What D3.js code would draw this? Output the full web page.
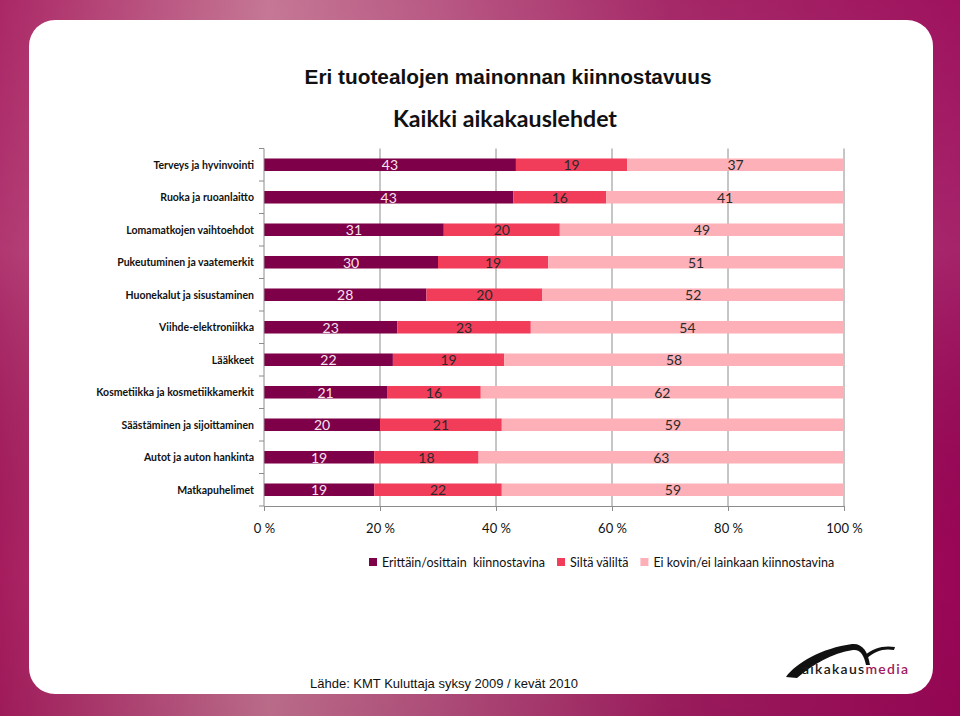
<!DOCTYPE html>
<html>
<head>
<meta charset="utf-8">
<script src="https://cdn.jsdelivr.net/npm/d3@7"></script>
<style>
  html, body { margin: 0; padding: 0; background: #fff; }
  svg { display: block; }
</style>
</head>
<body>
<svg id="chart" width="960" height="716"></svg>
<script>
// ---------------- DATA ----------------
const categories = [
  "Terveys ja hyvinvointi",
  "Ruoka ja ruoanlaitto",
  "Lomamatkojen vaihtoehdot",
  "Pukeutuminen ja vaatemerkit",
  "Huonekalut ja sisustaminen",
  "Viihde-elektroniikka",
  "Lääkkeet",
  "Kosmetiikka ja kosmetiikkamerkit",
  "Säästäminen ja sijoittaminen",
  "Autot ja auton hankinta",
  "Matkapuhelimet"
];
const seriesNames = [
  "Erittäin/osittain  kiinnostavina",
  "Siltä väliltä",
  "Ei kovin/ei lainkaan kiinnostavina"
];
const interested    = [43, 43, 31, 30, 28, 23, 22, 21, 20, 19, 19];
const neutral       = [19, 16, 20, 19, 20, 23, 19, 16, 21, 18, 22];
const notInterested = [37, 41, 49, 51, 52, 54, 58, 62, 59, 63, 59];
const xTicks = [0, 0.2, 0.4, 0.6, 0.8, 1.0];
const titleText = "Eri tuotealojen mainonnan kiinnostavuus";
const subtitleText = "Kaikki aikakauslehdet";
const sourceText = "Lähde: KMT Kuluttaja syksy 2009 / kevät 2010";
const colors = ["#7e0048", "#f23d5a", "#fdb0b8"];

// ---------------- DRAW ----------------
const svg = d3.select("#chart");
const defs = svg.append("defs");

const bg = defs.append("linearGradient").attr("id", "bgGrad")
  .attr("x1", "0").attr("y1", "0").attr("x2", "1").attr("y2", "0");
[["0", "#a61c5e"], ["0.28", "#c2708f"], ["0.45", "#b5517e"], ["0.7", "#a01d60"], ["1", "#9a0656"]]
  .forEach(([o, c]) => bg.append("stop").attr("offset", o).attr("stop-color", c));
const bgV = defs.append("linearGradient").attr("id", "bgGradV")
  .attr("x1", "0").attr("y1", "0").attr("x2", "0").attr("y2", "1");
[["0", "#ffffff", 0.05], ["0.35", "#ffffff", 0.12], ["0.8", "#000000", 0.0], ["1", "#000000", 0.05]]
  .forEach(([o, c, a]) => bgV.append("stop").attr("offset", o).attr("stop-color", c).attr("stop-opacity", a));

svg.append("rect").attr("width", 960).attr("height", 716).attr("fill", "url(#bgGrad)");
svg.append("rect").attr("width", 960).attr("height", 716).attr("fill", "url(#bgGradV)");
svg.append("rect").attr("x", 29).attr("y", 20).attr("width", 904).attr("height", 674)
  .attr("rx", 26).attr("ry", 26).attr("fill", "#ffffff");

// Titles
const t1 = svg.append("text").attr("x", 508).attr("y", 84).attr("text-anchor", "middle")
  .attr("font-family", "Liberation Sans, Arial, sans-serif").attr("font-size", 20)
  .attr("font-weight", 700).attr("fill", "#111").text(titleText);
t1.attr("textLength", 407).attr("lengthAdjust", "spacingAndGlyphs");
const t2 = svg.append("text").attr("x", 505).attr("y", 127).attr("text-anchor", "middle")
  .attr("font-family", "Lato, sans-serif").attr("font-weight", 700).attr("font-size", 22)
  .attr("fill", "#111").text(subtitleText);
t2.attr("textLength", 224).attr("lengthAdjust", "spacingAndGlyphs");

// Scales
const x = d3.scaleLinear().domain([0, 1]).range([264, 844]);
const y = d3.scaleBand().domain(categories).range([148.5, 506])
  .paddingInner(0.615).paddingOuter(0.3075);

const rows = categories.map((c, i) => {
  const vals = [interested[i], neutral[i], notInterested[i]];
  const tot = d3.sum(vals);
  let acc = 0;
  return vals.map((v, k) => {
    const s = { cat: c, k, v, x0: acc / tot, x1: (acc + v) / tot };
    acc += v;
    return s;
  });
});

const grid = "#8c8c8c";
// gridlines
svg.append("g").selectAll("line").data(xTicks.slice(1)).join("line")
  .attr("x1", d => x(d)).attr("x2", d => x(d))
  .attr("y1", 148.5).attr("y2", 506)
  .attr("stroke", grid).attr("stroke-width", 1);

// bars
const segs = rows.flat();
svg.append("g").selectAll("rect").data(segs).join("rect")
  .attr("x", d => x(d.x0)).attr("width", d => x(d.x1) - x(d.x0))
  .attr("y", d => y(d.cat)).attr("height", y.bandwidth())
  .attr("fill", d => colors[d.k]);

// value labels
svg.append("g").selectAll("text").data(segs).join("text")
  .attr("x", d => (x(d.x0) + x(d.x1)) / 2)
  .attr("y", d => y(d.cat) + y.bandwidth() / 2 + 5.5)
  .attr("text-anchor", "middle")
  .attr("font-family", "Lato, sans-serif").attr("font-size", 14)
  .attr("fill", d => d.k === 0 ? "#f6e4ee" : "#2a2a2a")
  .text(d => d.v);

// y axis (category)
const yAxisG = svg.append("g");
yAxisG.append("line").attr("x1", 264).attr("x2", 264).attr("y1", 148.5).attr("y2", 506)
  .attr("stroke", grid);
const step = y.step();
yAxisG.selectAll("line.tick").data(d3.range(categories.length + 1)).join("line")
  .attr("class", "tick")
  .attr("x1", 259).attr("x2", 264)
  .attr("y1", i => 148.5 + i * step).attr("y2", i => 148.5 + i * step)
  .attr("stroke", grid);
yAxisG.selectAll("text").data(categories).join("text")
  .attr("x", 254).attr("y", d => y(d) + y.bandwidth() / 2 + 4)
  .attr("text-anchor", "end")
  .attr("font-family", "Lato, sans-serif").attr("font-weight", 700).attr("font-size", 10.5)
  .attr("fill", "#111").text(d => d);

// x axis
const xAxis = d3.axisBottom(x).tickValues(xTicks).tickSize(5).tickPadding(13)
  .tickFormat(d => Math.round(d * 100) + " %");
const xg = svg.append("g").attr("transform", "translate(0,506)").call(xAxis);
xg.select(".domain").attr("stroke", grid);
xg.selectAll(".tick line").attr("stroke", grid);
xg.selectAll(".tick text").attr("font-family", "Lato, sans-serif").attr("font-size", 13)
  .attr("fill", "#111");

// legend
const leg = svg.append("g");
let lx = 369;
seriesNames.forEach((name, k) => {
  leg.append("rect").attr("x", lx).attr("y", 558).attr("width", 8).attr("height", 8)
    .attr("fill", colors[k]);
  const tt = leg.append("text").attr("x", lx + 13).attr("y", 567)
    .attr("font-family", "Lato, sans-serif").attr("font-size", 12.5)
    .attr("fill", "#111").attr("xml:space", "preserve").style("white-space", "pre").text(name);
  lx = lx + 13 + tt.node().getComputedTextLength() + 12;
});

// source
svg.append("text").attr("x", 310).attr("y", 688)
  .attr("font-family", "Liberation Sans, Arial, sans-serif").attr("font-size", 13)
  .attr("fill", "#111").text(sourceText);

// logo
const logo = svg.append("g");
logo.append("path").attr("fill", "#111")
  .attr("d", "M786 677 C796 663 822 648 852 644 C862 643 868 651 870 665 L866 665 C864 655 860 649 853 650 C832 653 812 665 797 678 Z");
logo.append("path").attr("fill", "#111")
  .attr("d", "M865 655 C873 648 884 645 895 647 L894 650 C884 648 875 651 867 658 Z");
const lt = logo.append("text").attr("x", 802).attr("y", 674)
  .attr("font-family", "Lato, sans-serif").attr("font-size", 14).attr("font-weight", 600)
  .attr("textLength", 106).attr("lengthAdjust", "spacing");
lt.append("tspan").attr("fill", "#1a1a1a").text("aikakaus");
lt.append("tspan").attr("fill", "#a0195e").text("media");
</script>
</body>
</html>
